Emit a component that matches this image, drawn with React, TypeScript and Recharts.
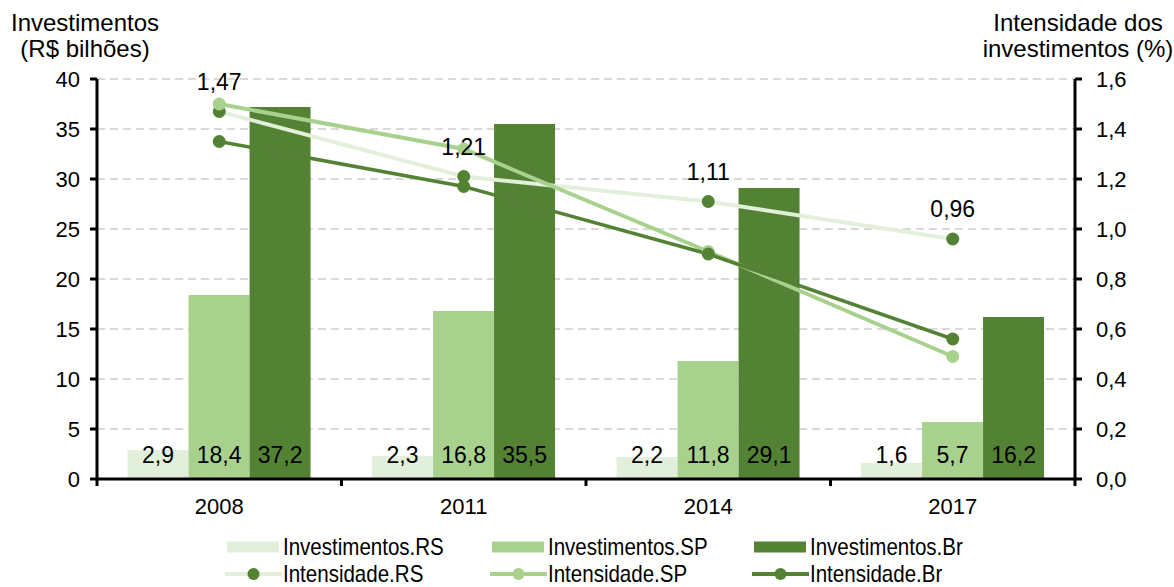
import React from 'react';
import { Bar, CartesianGrid, ComposedChart, LabelList, Line, XAxis, YAxis } from 'recharts';

const years = ['2008', '2011', '2014', '2017'];
const investRS = [2.9, 2.3, 2.2, 1.6];
const investSP = [18.4, 16.8, 11.8, 5.7];
const investBr = [37.2, 35.5, 29.1, 16.2];
const intensRS = [1.47, 1.21, 1.11, 0.96];
const intensSP = [1.5, 1.32, 0.91, 0.49];
const intensBr = [1.35, 1.17, 0.9, 0.56];
const leftTicks = [0, 5, 10, 15, 20, 25, 30, 35, 40];
const rightTicks = [0, 0.2, 0.4, 0.6, 0.8, 1.0, 1.2, 1.4, 1.6];

const W = 1174;
const H = 587;
const PLOT_LEFT = 97;
const PLOT_RIGHT = 1075;
const PLOT_TOP = 79;
const PLOT_BOTTOM = 479;
const X_AXIS_H = 40;
const TICK = 7;

const C_RS = '#E2EFDA';
const C_SP = '#A9D18E';
const C_BR = '#548235';
const FONT = '"Liberation Sans", Arial, Helvetica, sans-serif';

const data = years.map((year, i) => ({
  year,
  invRS: investRS[i],
  invSP: investSP[i],
  invBr: investBr[i],
  intRS: intensRS[i],
  intSP: intensSP[i],
  intBr: intensBr[i],
}));

const comma = (v: number, d: number) => v.toFixed(d).replace('.', ',');

function BarValue(props: any) {
  const { x, y, width, height, value } = props;
  const bottom = y + height;
  return (
    <text x={x + width / 2} y={bottom - 24} textAnchor="middle" dominantBaseline="central"
      fontSize={23} fontFamily={FONT} fill="#000">
      {comma(value, 1)}
    </text>
  );
}

function PointValue(props: any) {
  const { x, y, value } = props;
  return (
    <text x={x} y={y - 30} textAnchor="middle" dominantBaseline="central"
      fontSize={23} fontFamily={FONT} fill="#000">
      {comma(value, 2)}
    </text>
  );
}

function YearTick(props: any) {
  const { x, y, payload, index } = props;
  const half = (PLOT_RIGHT - PLOT_LEFT) / years.length / 2;
  const axisY = y - TICK;
  return (
    <g>
      {index === 0 && <line x1={x - half} y1={axisY} x2={x - half} y2={axisY + TICK} stroke="#000" strokeWidth={3} />}
      <line x1={x + half} y1={axisY} x2={x + half} y2={axisY + TICK} stroke="#000" strokeWidth={3} />
      <text x={x} y={axisY + 27} textAnchor="middle" dominantBaseline="central"
        fontSize={22} fontFamily={FONT} fill="#000">
        {payload.value}
      </text>
    </g>
  );
}

const legendRows = [
  [
    { name: 'Investimentos.RS', kind: 'bar', color: C_RS },
    { name: 'Investimentos.SP', kind: 'bar', color: C_SP },
    { name: 'Investimentos.Br', kind: 'bar', color: C_BR },
  ],
  [
    { name: 'Intensidade.RS', kind: 'line', color: C_RS, dot: C_BR },
    { name: 'Intensidade.SP', kind: 'line', color: C_SP, dot: C_SP },
    { name: 'Intensidade.Br', kind: 'line', color: C_BR, dot: C_BR },
  ],
];
const legendCols = [225, 490, 752];
const legendRowY = [547, 574];

function LegendBlock() {
  return (
    <>
      {legendRows.map((row, r) =>
        row.map((item: any, c) => (
          <div key={item.name} style={{ position: 'absolute', left: legendCols[c], top: legendRowY[r] - 10, height: 20, display: 'flex', alignItems: 'center' }}>
            <svg width={58} height={20} style={{ display: 'block' }}>
              {item.kind === 'bar' ? (
                <rect x={2} y={4.5} width={52} height={11} fill={item.color} />
              ) : (
                <>
                  <line x1={0} y1={10} x2={57} y2={10} stroke={item.color} strokeWidth={4} />
                  <circle cx={28.5} cy={10} r={6} fill={item.dot} />
                </>
              )}
            </svg>
            <span style={{ fontFamily: FONT, fontSize: 24, lineHeight: '20px', color: '#000', whiteSpace: 'nowrap', display: 'inline-block', transform: 'scaleX(0.855)', transformOrigin: 'left center' }}>
              {item.name}
            </span>
          </div>
        ))
      )}
    </>
  );
}

const titleStyle: React.CSSProperties = {
  position: 'absolute',
  fontFamily: FONT,
  fontSize: 24,
  lineHeight: '26px',
  textAlign: 'center',
  color: '#000',
  whiteSpace: 'nowrap',
};

export default function App() {
  return (
    <div style={{ position: 'absolute', left: 0, top: 0, width: W, height: H, background: '#fff', overflow: 'hidden' }}>
      <ComposedChart
        width={W}
        height={H}
        data={data}
        margin={{ top: PLOT_TOP, right: 0, left: 0, bottom: H - PLOT_BOTTOM - X_AXIS_H }}
        barCategoryGap="12.5%"
        barGap={0}
      >
        <CartesianGrid yAxisId="left" vertical={false} stroke="#D9D9D9" strokeWidth={2} strokeDasharray="8 5" />
        <XAxis
          dataKey="year"
          height={X_AXIS_H}
          axisLine={{ stroke: '#000', strokeWidth: 3 }}
          tickLine={false}
          tickSize={TICK}
          tickMargin={0}
          tick={<YearTick />}
          interval={0}
        />
        <YAxis
          yAxisId="left"
          width={PLOT_LEFT}
          domain={[0, 40]}
          ticks={leftTicks}
          interval={0}
          axisLine={{ stroke: '#000', strokeWidth: 3 }}
          tickLine={{ stroke: '#000', strokeWidth: 3 }}
          tickSize={TICK}
          tickMargin={10}
          tick={{ fontSize: 22, fontFamily: FONT, fill: '#000' }}
        />
        <YAxis
          yAxisId="right"
          orientation="right"
          width={W - PLOT_RIGHT}
          domain={[0, 1.6]}
          ticks={rightTicks}
          interval={0}
          axisLine={{ stroke: '#000', strokeWidth: 3 }}
          tickLine={{ stroke: '#000', strokeWidth: 3 }}
          tickSize={TICK}
          tickMargin={14}
          tickFormatter={(v: number) => comma(v, 1)}
          tick={{ fontSize: 22, fontFamily: FONT, fill: '#000' }}
        />
        <Bar yAxisId="left" dataKey="invRS" name="Investimentos.RS" fill={C_RS} isAnimationActive={false}>
          <LabelList dataKey="invRS" content={<BarValue />} />
        </Bar>
        <Bar yAxisId="left" dataKey="invSP" name="Investimentos.SP" fill={C_SP} isAnimationActive={false}>
          <LabelList dataKey="invSP" content={<BarValue />} />
        </Bar>
        <Bar yAxisId="left" dataKey="invBr" name="Investimentos.Br" fill={C_BR} isAnimationActive={false}>
          <LabelList dataKey="invBr" content={<BarValue />} />
        </Bar>
        <Line yAxisId="right" dataKey="intRS" name="Intensidade.RS" stroke={C_RS} strokeWidth={4}
          dot={{ r: 6.5, fill: C_BR, stroke: 'none' }} activeDot={false} isAnimationActive={false}>
          <LabelList dataKey="intRS" content={<PointValue />} />
        </Line>
        <Line yAxisId="right" dataKey="intSP" name="Intensidade.SP" stroke={C_SP} strokeWidth={4}
          dot={{ r: 6.5, fill: C_SP, stroke: 'none' }} activeDot={false} isAnimationActive={false} />
        <Line yAxisId="right" dataKey="intBr" name="Intensidade.Br" stroke={C_BR} strokeWidth={3.5}
          dot={{ r: 6.5, fill: C_BR, stroke: 'none' }} activeDot={false} isAnimationActive={false} />
      </ComposedChart>
      <div style={{ ...titleStyle, left: 85, top: 10, transform: 'translateX(-50%)' }}>
        Investimentos<br />(R$ bilhões)
      </div>
      <div style={{ ...titleStyle, left: 1078, top: 10, transform: 'translateX(-50%)' }}>
        Intensidade dos<br />investimentos (%)
      </div>
      <LegendBlock />
    </div>
  );
}
